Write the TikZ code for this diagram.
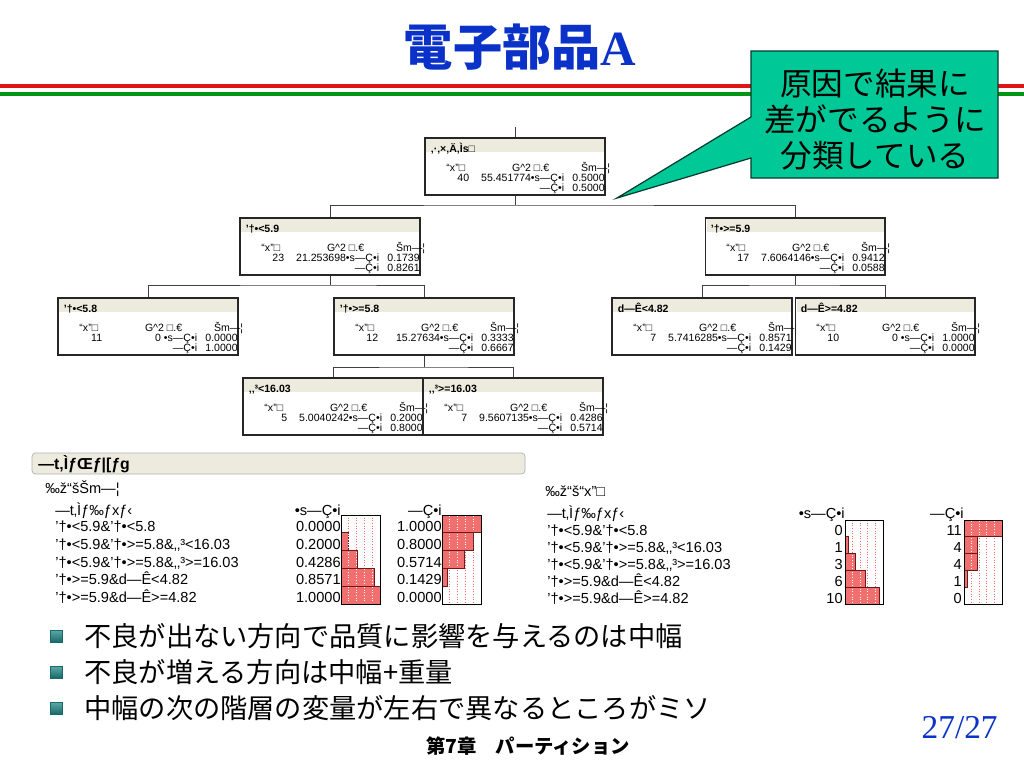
\documentclass[tikz,border=0pt]{standalone}
\usepackage{fontspec}
\setmainfont{Liberation Sans}
\newfontfamily\jp{Noto Sans CJK JP}
\newfontfamily\rmserif{Liberation Serif}
\usetikzlibrary{positioning}

\definecolor{titleblue}{RGB}{10,50,200}
\definecolor{hdfill}{RGB}{236,235,222}
\definecolor{notefill}{RGB}{0,200,150}
\definecolor{barfill}{RGB}{240,112,112}
\definecolor{bardraw}{RGB}{110,25,25}
\definecolor{bulletlt}{RGB}{95,170,170}
\definecolor{bulletdk}{RGB}{25,105,105}
\definecolor{linered}{RGB}{225,20,20}
\definecolor{linegreen}{RGB}{0,150,20}

\newcommand{\tfont}{\fontsize{6}{7}\selectfont}
\newcommand{\tabfont}{\fontsize{8.3}{10}\selectfont}

% tree box: name, centre x, top y, header, count, G^2, p bad, p good
\newcommand{\tbox}[8]{%
  \node[tnode] (#1) at (#2,#3+28.5) {};
  \fill[hdfill] ([shift={(2,2)}]#1.north west) rectangle ([shift={(-2,15)}]#1.north east);
  \node[tsmall,anchor=west,font=\tfont\bfseries] at ([shift={(6,9)}]#1.north west) {#4};
  \node[tsmall,anchor=east] at ([shift={(41,28)}]#1.north west) {“x”□};
  \node[tsmall,anchor=east] at ([shift={(125,28)}]#1.north west) {G\textasciicircum2 □.€};
  \node[tsmall,anchor=east] at ([shift={(186,28)}]#1.north west) {Šm—¦};
  \node[tsmall,anchor=east] at ([shift={(45,38.5)}]#1.north west) {#5};
  \node[tsmall,anchor=east] at ([shift={(140,38.5)}]#1.north west) {#6•s—Ç•i};
  \node[tsmall,anchor=east] at ([shift={(180.5,38.5)}]#1.north west) {#7};
  \node[tsmall,anchor=east] at ([shift={(140,48.5)}]#1.north west) {—Ç•i};
  \node[tsmall,anchor=east] at ([shift={(180.5,48.5)}]#1.north west) {#8};
}

% bar column: x0, y0, width, row height, max, values
\newcommand{\barcol}[6]{%
  \foreach \g in {0.2,0.4,0.6,0.8}
    \draw[gridred] (#1+#3*\g,#2) -- (#1+#3*\g,#2+5*#4);
  \foreach \v [count=\i from 0] in {#6} {
    \filldraw[bar] (#1,#2+#4*\i) rectangle ++(#3*\v/#5,#4);
    \begin{scope}
      \clip (#1,#2+#4*\i) rectangle ++(#3*\v/#5,#4);
      \foreach \g in {0.2,0.4,0.6,0.8}
        \draw[gridwhite] (#1+#3*\g,#2+#4*\i+1) -- ++(0,#4-2);
    \end{scope}
  }
  \draw[frame] (#1,#2) rectangle ++(#3,5*#4);
}

\begin{document}
\begin{tikzpicture}[x=0.02cm,y=-0.02cm,
  tnode/.style={draw=black!85,line width=0.6pt,minimum width=3.6cm,minimum height=1.14cm,inner sep=0pt},
  tedge/.style={line width=0.5pt,draw=black!75},
  tsmall/.style={inner sep=0pt,text height=1.6ex,text depth=0.4ex,font=\tfont},
  ttext/.style={inner sep=0pt,anchor=west,text height=1.6ex,text depth=0.4ex,font=\tabfont},
  tval/.style={inner sep=0pt,anchor=east,text height=1.6ex,text depth=0.4ex,font=\tabfont},
  bar/.style={fill=barfill,draw=bardraw,line width=0.5pt},
  gridred/.style={draw=red!60,densely dotted,line width=0.5pt},
  gridwhite/.style={draw=white,densely dotted,line width=0.5pt},
  frame/.style={draw=black,line width=0.5pt},
  bulletsq/.style={minimum size=0.24cm,inner sep=0pt,top color=bulletlt,bottom color=bulletdk,draw=bulletdk,line width=0.3pt},
  bul/.style={anchor=west,inner sep=0pt,font=\jp\fontsize{15.5}{18}\selectfont},
]
\useasboundingbox (0,0) rectangle (1024,768);
\fill[white] (0,0) rectangle (1024,768);

% title and rules
\node[inner sep=0pt,text=titleblue,font=\jp\bfseries\fontsize{28}{32}\selectfont] (ttl) at (520,47) {電子部品{\rmserif\bfseries A}};
\draw[linered,line width=2pt] (0,86) -- (1024,86);
\draw[linegreen,line width=2.2pt] (0,94) -- (1024,94);

% callout
\coordinate (tip) at (617,198);
\filldraw[fill=notefill,draw=black!70!notefill,line width=0.7pt]
  (751,51) -- (998,51) -- (998,178) -- (751,178) -- (751,158) -- (tip) -- (751,117) -- cycle;
\node[align=center,inner sep=0pt,font=\jp\fontsize{18}{20.5}\selectfont] (note) at (875,120)
  {原因で結果に\\差がでるように\\分類している};

% tree
\tbox{root}{515}{138}{‚·‚×‚Ä‚Ìs□}{40}{55.451774}{0.5000}{0.5000}
\tbox{n1l}{330}{218}{’†•<5.9}{23}{21.253698}{0.1739}{0.8261}
\tbox{n1r}{795}{218}{’†•>=5.9}{17}{7.6064146}{0.9412}{0.0588}
\tbox{n2a}{148}{298}{’†•<5.8}{11}{0 }{0.0000}{1.0000}
\tbox{n2b}{424}{298}{’†•>=5.8}{12}{15.27634}{0.3333}{0.6667}
\tbox{n2c}{702}{298}{d—Ê<4.82}{7}{5.7416285}{0.8571}{0.1429}
\tbox{n2d}{885}{298}{d—Ê>=4.82}{10}{0 }{1.0000}{0.0000}
\tbox{n3a}{333}{378}{‚‚³<16.03}{5}{5.0040242}{0.2000}{0.8000}
\tbox{n3b}{513}{378}{‚‚³>=16.03}{7}{9.5607135}{0.4286}{0.5714}

\coordinate (r0) at (515,127);
\coordinate (s0) at (515,205);
\coordinate (s1) at (330,285);
\coordinate (s2) at (795,285);
\coordinate (s3) at (424,367);
\draw[tedge] (r0) -- (root);
\draw[tedge] (root) -- (s0);
\draw[tedge] (n1l) |- (s0) -| (n1r);
\draw[tedge] (n1l) -- (s1);
\draw[tedge] (n2a) |- (s1) -| (n2b);
\draw[tedge] (n1r) -- (s2);
\draw[tedge] (n2c) |- (s2) -| (n2d);
\draw[tedge] (n2b) -- (s3);
\draw[tedge] (n3a) |- (s3) -| (n3b);

% leaf report
\draw[fill=hdfill,draw=black!30,rounded corners=2pt] (32,453) rectangle (525,474);
\node[inner sep=0pt,anchor=west,font=\fontsize{9}{10}\selectfont\bfseries] (rep) at (38,464) {—t‚ÌƒŒƒ|[ƒg};
\node[ttext] (prob) at (45,488) {‰ž“šŠm—¦};
\node[ttext] (lab1) at (55,510) {—t‚Ìƒ‰ƒxƒ‹};
\node[tval] (hb1) at (341,510) {•s—Ç•i};
\node[tval] (hg1) at (442,510) {—Ç•i};
\foreach \t [count=\i from 0] in {{’†•<5.9\&’†•<5.8},{’†•<5.9\&’†•>=5.8\&‚‚³<16.03},{’†•<5.9\&’†•>=5.8\&‚‚³>=16.03},{’†•>=5.9\&d—Ê<4.82},{’†•>=5.9\&d—Ê>=4.82}}
  \node[ttext] at (55,526+17.8*\i) {\t};
\foreach \t [count=\i from 0] in {0.0000,0.2000,0.4286,0.8571,1.0000}
  \node[tval] at (341,526+17.8*\i) {\t};
\foreach \t [count=\i from 0] in {1.0000,0.8000,0.5714,0.1429,0.0000}
  \node[tval] at (442,526+17.8*\i) {\t};
\barcol{341}{515}{39}{17.8}{1}{0,0.2,0.4286,0.8571,1}
\barcol{442}{515}{39}{17.8}{1}{1,0.8,0.5714,0.1429,0}

\node[ttext] (cnt) at (545,491) {‰ž“š“x”□};
\node[ttext] (lab2) at (547,513) {—t‚Ìƒ‰ƒxƒ‹};
\node[tval] (hb2) at (845,513) {•s—Ç•i};
\node[tval] (hg2) at (964,513) {—Ç•i};
\foreach \t [count=\i from 0] in {{’†•<5.9\&’†•<5.8},{’†•<5.9\&’†•>=5.8\&‚‚³<16.03},{’†•<5.9\&’†•>=5.8\&‚‚³>=16.03},{’†•>=5.9\&d—Ê<4.82},{’†•>=5.9\&d—Ê>=4.82}}
  \node[ttext] at (547,530+16.9*\i) {\t};
\foreach \t [count=\i from 0] in {0,1,3,6,10}
  \node[tval] at (843,530+16.9*\i) {\t};
\foreach \t [count=\i from 0] in {11,4,4,1,0}
  \node[tval] at (962,530+16.9*\i) {\t};
\barcol{845}{520}{38}{16.9}{11}{0,1,3,6,10}
\barcol{964}{520}{38}{16.9}{11}{11,4,4,1,0}

% bullets
\node[bulletsq] (b1) at (56,636) {};
\node[bulletsq] (b2) at (56,672) {};
\node[bulletsq] (b3) at (56,708) {};
\node[bul] (t1) at (84,636) {不良が出ない方向で品質に影響を与えるのは中幅};
\node[bul] (t2) at (84,672) {不良が増える方向は中幅+重量};
\node[bul] (t3) at (84,708) {中幅の次の階層の変量が左右で異なるところがミソ};

% footer
\node[inner sep=0pt,font=\jp\bfseries\fontsize{11}{13}\selectfont] (foot) at (528,746) {第7章　パーティション};
\node[inner sep=0pt,anchor=east,text=titleblue,font=\rmserif\fontsize{19}{22}\selectfont] (pg) at (998,728) {27/27};
\end{tikzpicture}
\end{document}
